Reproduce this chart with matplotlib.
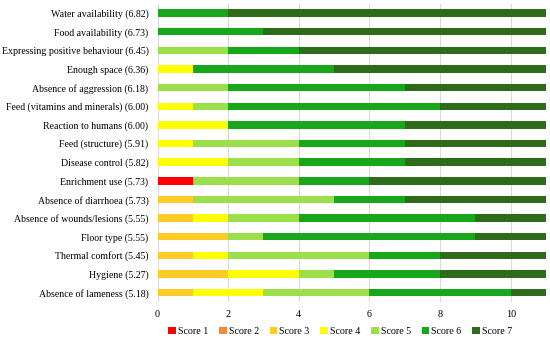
import numpy as np
import matplotlib.pyplot as plt

plt.rcParams['font.family'] = ['Liberation Serif', 'DejaVu Serif']

categories = [
    'Water availability (6.82)', 'Food availability (6.73)',
    'Expressing positive behaviour (6.45)', 'Enough space (6.36)',
    'Absence of aggression (6.18)', 'Feed (vitamins and minerals) (6.00)',
    'Reaction to humans (6.00)', 'Feed (structure) (5.91)',
    'Disease control (5.82)', 'Enrichment use (5.73)',
    'Absence of diarrhoea (5.73)', 'Absence of wounds/lesions (5.55)',
    'Floor type (5.55)', 'Thermal comfort (5.45)', 'Hygiene (5.27)',
    'Absence of lameness (5.18)',
]

# counts per score, one list per score, same order as categories
score1 = [0, 0, 0, 0, 0, 0, 0, 0, 0, 1, 0, 0, 0, 0, 0, 0]
score2 = [0, 0, 0, 0, 0, 0, 0, 0, 0, 0, 0, 0, 0, 0, 0, 0]
score3 = [0, 0, 0, 0, 0, 0, 0, 0, 0, 0, 1, 1, 2, 1, 2, 1]
score4 = [0, 0, 0, 1, 0, 1, 2, 1, 2, 0, 0, 1, 0, 1, 2, 2]
score5 = [0, 0, 2, 0, 2, 1, 0, 3, 2, 3, 4, 2, 1, 4, 1, 3]
score6 = [2, 3, 2, 4, 5, 6, 5, 3, 3, 2, 2, 5, 6, 2, 3, 4]
score7 = [9, 8, 7, 6, 4, 3, 4, 4, 4, 5, 4, 2, 2, 3, 3, 1]

series = [score1, score2, score3, score4, score5, score6, score7]
labels = ['Score 1', 'Score 2', 'Score 3', 'Score 4', 'Score 5', 'Score 6', 'Score 7']
colors = ['#FF0000', '#F58A3A', '#FFCC26', '#FFFF00', '#9BE04B', '#16A81A', '#2E6B1B']

fig = plt.figure(figsize=(5.5, 3.4), dpi=100)
ax = fig.add_axes([0.2864, 0.112, 0.7064, 0.877])

y = np.arange(len(categories))
left = np.zeros(len(categories))
for vals, lab, col in zip(series, labels, colors):
    vals = np.array(vals)
    ax.barh(y, vals, left=left, height=0.4, color=col, label=lab, zorder=3)
    left += vals

ax.set_yticks(y)
ax.set_yticklabels(categories, fontsize=7.1)
ax.set_ylim(len(categories) - 0.5, -0.5)
ax.set_xlim(0, 11)
ax.set_xticks([0, 2, 4, 6, 8, 10])
ax.tick_params(axis='x', labelsize=7.3, length=0, pad=6)
ax.tick_params(axis='y', length=0, pad=6.5)
ax.grid(axis='x', color='#D9D9D9', linewidth=0.8, zorder=0)
for s in ax.spines.values():
    s.set_visible(False)

ax.legend(loc='center', bbox_to_anchor=(0.47, -0.1), ncol=7, frameon=False,
          fontsize=7.2, handlelength=0.75, handleheight=0.75, handletextpad=0.2,
          columnspacing=1.1, borderaxespad=0)

fig.savefig('out.png', dpi=100)
